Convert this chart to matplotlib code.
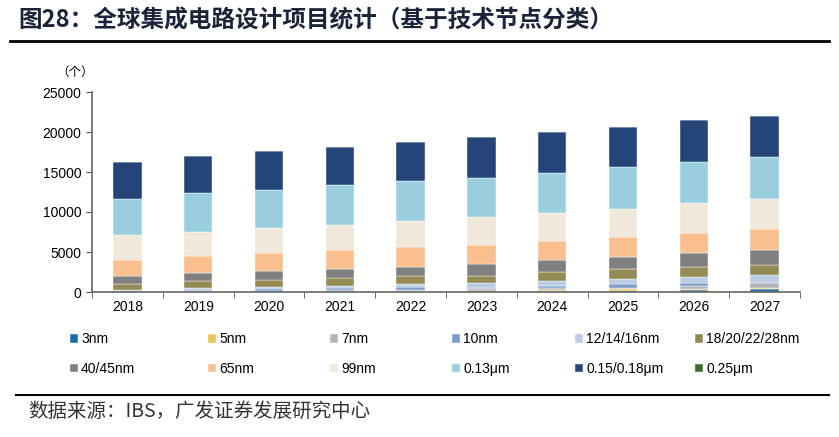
import matplotlib
matplotlib.use('Agg')
import matplotlib.pyplot as plt
import numpy as np
from matplotlib.lines import Line2D

plt.rcParams['font.family'] = ['Liberation Sans', 'Noto Sans CJK SC', 'DejaVu Sans']

# 数据
years = ['2018', '2019', '2020', '2021', '2022', '2023', '2024', '2025', '2026', '2027']
nodes = ['3nm', '5nm', '7nm', '10nm', '12/14/16nm', '18/20/22/28nm',
         '40/45nm', '65nm', '99nm', '0.13μm', '0.15/0.18μm', '0.25μm']

v_3nm = [0, 0, 0, 0, 20, 50, 100, 160, 220, 330]
v_5nm = [0, 0, 0, 20, 50, 80, 150, 170, 170, 170]
v_7nm = [50, 80, 150, 180, 180, 200, 210, 210, 300, 580]
v_10nm = [100, 120, 270, 340, 330, 210, 330, 420, 390, 210]
v_12nm = [150, 340, 250, 250, 380, 540, 630, 710, 840, 840]
v_28nm = [700, 800, 790, 960, 1040, 960, 1080, 1160, 1200, 1250]
v_40nm = [1050, 1030, 1160, 1170, 1170, 1500, 1540, 1550, 1750, 1910]
v_65nm = [2000, 2190, 2210, 2330, 2450, 2340, 2360, 2500, 2500, 2590]
v_99nm = [3050, 2900, 3130, 3080, 3250, 3500, 3480, 3500, 3800, 3750]
v_013 = [4500, 4880, 4790, 5000, 5050, 4870, 5040, 5200, 5080, 5290]
v_015 = [4700, 4620, 4875, 4800, 4870, 5130, 5040, 5000, 5250, 5120]
v_025 = [0, 0, 0, 0, 0, 0, 0, 0, 0, 0]

series = [v_3nm, v_5nm, v_7nm, v_10nm, v_12nm, v_28nm,
          v_40nm, v_65nm, v_99nm, v_013, v_015, v_025]
colors = ['#1F6DA6', '#E9C85B', '#B4B4B4', '#7C9DCB', '#B9CDE5', '#948A54',
          '#808080', '#F9BF8F', '#EFE8DB', '#99CEDE', '#254478', '#3D6B2B']

fig = plt.figure(figsize=(8.39, 4.37), dpi=100)
ax = fig.add_axes([92 / 839, 1 - 292 / 437, 708 / 839, 200 / 437])

x = np.arange(len(years))
bottom = np.zeros(len(years))
for vals, c, name in zip(series, colors, nodes):
    ax.bar(x, vals, width=0.4, bottom=bottom, color=c, label=name,
           edgecolor='white', linewidth=0.3)
    bottom += np.array(vals)

ax.set_xlim(-0.5, len(years) - 0.5)
ax.set_ylim(0, 25000)
ax.set_yticks(np.arange(0, 25001, 5000))
ax.set_xticks(x)
ax.set_xticklabels(years, fontsize=10)
ax.tick_params(axis='x', which='major', length=0, pad=6)
ax.set_xticks(np.arange(-0.5, len(years), 1), minor=True)
ax.tick_params(axis='x', which='minor', length=4, direction='out', color='#555555')
ax.tick_params(axis='y', labelsize=10, length=4, direction='out', color='#555555')
for s in ['top', 'right']:
    ax.spines[s].set_visible(False)
for s in ['left', 'bottom']:
    ax.spines[s].set_color('#666666')
    ax.spines[s].set_linewidth(1.2)

fig.text(75 / 839, 1 - 72 / 437, '（个）', fontsize=9, ha='center', va='center',
         family=['Noto Sans CJK SC'])

# 图例：每列单独放置，按行排列
handles, labels = ax.get_legend_handles_labels()
col_x = [70, 208, 330, 452, 575, 695]
for i, cx in enumerate(col_x):
    fig.legend([handles[i], handles[i + 6]], [labels[i], labels[i + 6]], ncol=1,
               loc='upper left', bbox_to_anchor=(cx / 839, 1 - 332 / 437),
               frameon=False, fontsize=10, handlelength=0.6, handleheight=0.6,
               handletextpad=0.2, labelspacing=1.15, borderaxespad=0, borderpad=0)

# 标题和线
fig.text(18 / 839, 1 - 20 / 437, '图28：全球集成电路设计项目统计（基于技术节点分类）',
         fontsize=17, fontweight='bold', color='#1B2338', ha='left', va='center',
         family=['Noto Sans CJK SC'])
fig.add_artist(Line2D([10 / 839, 829 / 839], [1 - 41 / 437, 1 - 41 / 437],
                      color='black', linewidth=2))
fig.add_artist(Line2D([16 / 839, 829 / 839], [1 - 395 / 437, 1 - 395 / 437],
                      color='black', linewidth=1.5))
fig.text(28 / 839, 1 - 411 / 437, '数据来源：IBS，广发证券发展研究中心',
         fontsize=14, color='#333333', ha='left', va='center',
         family=['Noto Sans CJK SC'])

fig.savefig('out.png', dpi=100)
